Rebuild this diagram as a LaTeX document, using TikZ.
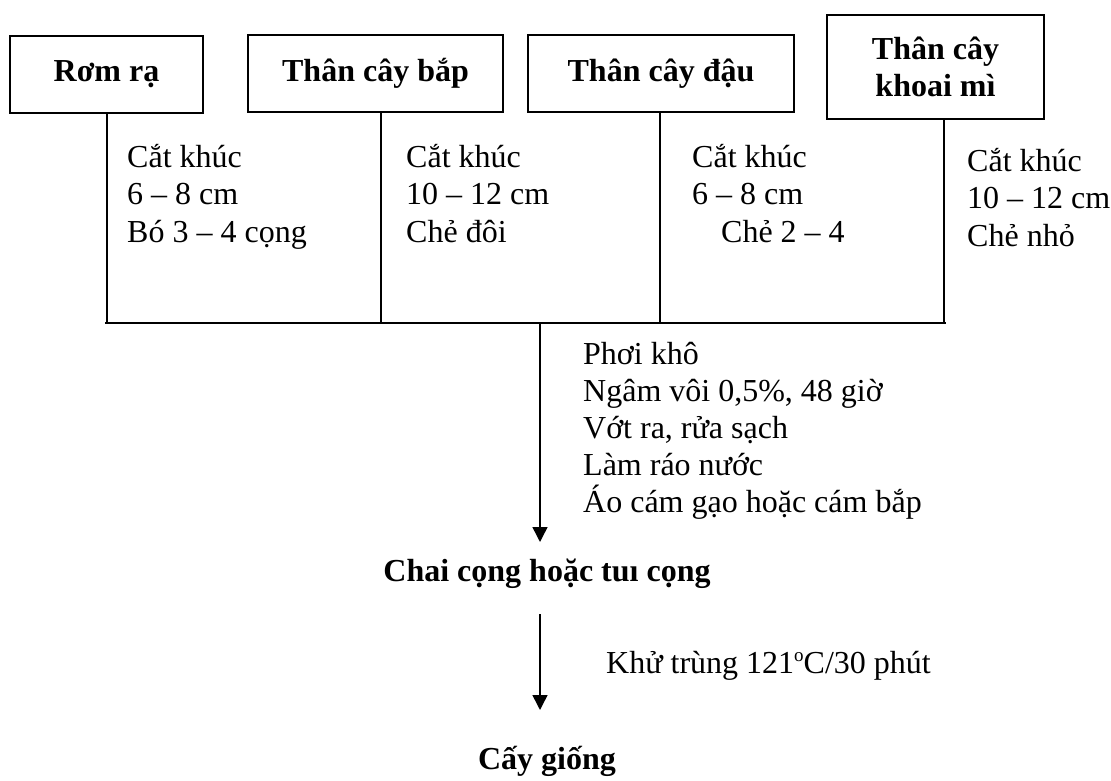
\documentclass[tikz,border=0pt]{standalone}
\usepackage{fontspec}
\setmainfont{Liberation Serif}
\usetikzlibrary{arrows.meta,calc}
\begin{document}
\begin{tikzpicture}[x=1pt,y=-1pt,
  every node/.style={inner sep=0pt,font=\fontsize{32}{37.5}\selectfont},
  srcbox/.style={draw,line width=1.5pt,font=\fontsize{32}{37}\selectfont\bfseries,align=center},
  note/.style={align=left,anchor=north west},
  ttl/.style={font=\fontsize{32}{37}\selectfont\bfseries},
  ln/.style={line width=1.5pt},
  arr/.style={line width=1.5pt,-{Triangle[width=15pt,length=15pt]}}]
\useasboundingbox (0,0) rectangle (1111,781);
% source boxes
\node[srcbox,minimum width=193pt,minimum height=77pt] (rom) at (106.5,74.5) {Rơm rạ};
\node[srcbox,minimum width=255pt,minimum height=77pt] (bap) at (375.5,73.5) {Thân cây bắp};
\node[srcbox,minimum width=266pt,minimum height=77pt] (dau) at (661,73.5) {Thân cây đậu};
\node[srcbox,minimum width=217pt,minimum height=104pt] (mi) at (935.5,67) {Thân cây\\khoai mì};
% joining points on the collecting line
\coordinate (jl) at (105,323);
\coordinate (j1) at (107,323);
\coordinate (j2) at (381,323);
\coordinate (j3) at (660,323);
\coordinate (j4) at (944,323);
\coordinate (jr) at (946,323);
\coordinate (a1s) at (540,323);
\coordinate (a1e) at (540,542);
\coordinate (a2s) at (540,614);
\coordinate (a2e) at (540,710);
\draw[ln] (j1 |- rom.south) -- (j1);
\draw[ln] (j2 |- bap.south) -- (j2);
\draw[ln] (j3 |- dau.south) -- (j3);
\draw[ln] (j4 |- mi.south) -- (j4);
\draw[ln] (jl) -- (jr);
% notes
\node[note] (n1) at (127,144) {Cắt khúc\\6 – 8 cm\\Bó 3 – 4 cọng};
\node[note] (n2) at (406,144) {Cắt khúc\\10 – 12 cm\\Chẻ đôi};
\node[note] (n3) at (692,144) {Cắt khúc\\6 – 8 cm\\\hspace*{29pt}Chẻ 2 – 4};
\node[note] (n4) at (967,148) {Cắt khúc\\10 – 12 cm\\Chẻ nhỏ};
\node[note,font=\fontsize{32}{37}\selectfont] (n5) at (583,342) {Phơi khô\\Ngâm vôi 0,5\%, 48 giờ\\Vớt ra, rửa sạch\\Làm ráo nước\\Áo cám gạo hoặc cám bắp};
% flow
\draw[arr] (a1s) -- (a1e);
\node[ttl] (chai) at (547,574) {Chai cọng hoặc tuı cọng};
\draw[arr] (a2s) -- (a2e);
\node[anchor=base west] (kt) at (606,673) {Khử trùng 121\raisebox{0.35em}{\fontsize{19}{20}\selectfont o}C/30 phút};
\node[ttl] (cay) at (547,761) {Cấy giống};
\end{tikzpicture}
\end{document}
